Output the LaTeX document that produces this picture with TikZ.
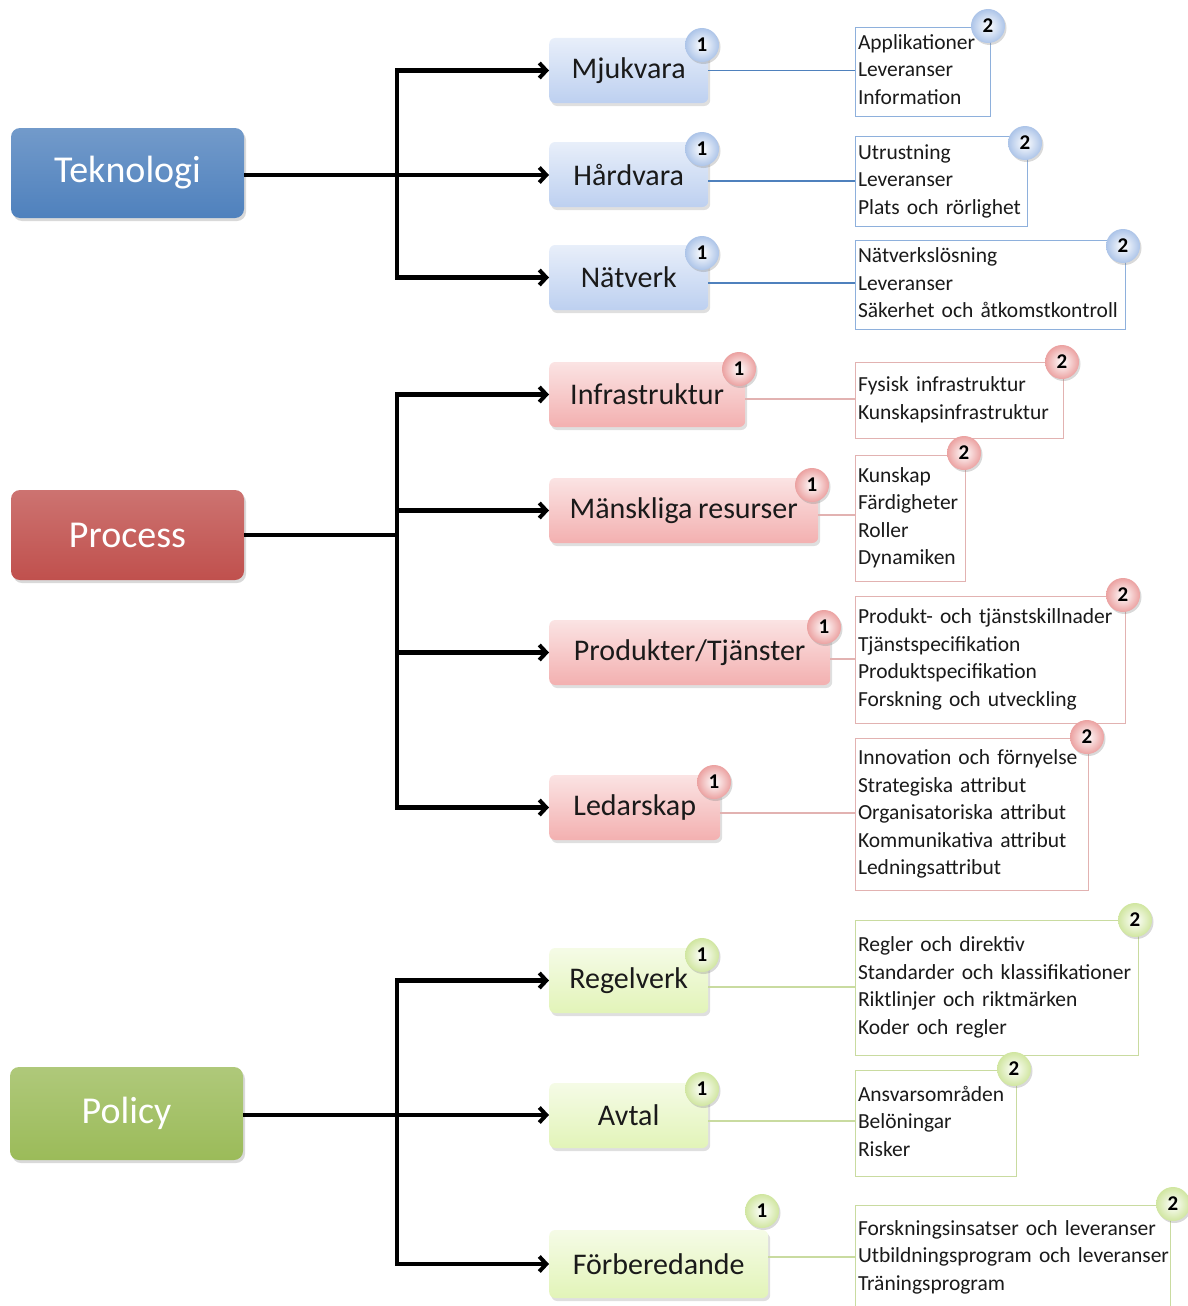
\documentclass[tikz,border=0pt]{standalone}
\usepackage{fontspec}
\setmainfont{Carlito}[WordSpace=0.85]
\usetikzlibrary{shadows,arrows.meta}
\definecolor{tekc}{HTML}{4F81BD}
\definecolor{proc}{HTML}{C0504D}
\definecolor{polc}{HTML}{9BBB59}
\definecolor{tekl}{HTML}{BDD0F0}
\definecolor{procl}{HTML}{F3B0B0}
\definecolor{poll}{HTML}{E2F4B8}
\definecolor{tekb}{HTML}{8EB0DC}
\definecolor{prob}{HTML}{E2B2B1}
\definecolor{polb}{HTML}{C9DBA0}
\definecolor{txt}{HTML}{1A1A1A}
\newcommand{\itemlines}[1]{\begin{tabular}{@{}l@{}}#1\end{tabular}}
\tikzset{
  mainbox/.style={rounded corners=9pt, minimum width=233pt, minimum height=90pt, inner sep=0pt,
    text=white, font=\fontsize{38}{44}\selectfont,
    drop shadow={opacity=0.3, shadow xshift=2pt, shadow yshift=-3pt}},
  subbox/.style={rounded corners=6pt, minimum height=65pt, inner sep=0pt, anchor=west,
    text=txt, font=\fontsize{30}{34}\selectfont,
    drop shadow={opacity=0.25, shadow xshift=2pt, shadow yshift=-3pt}},
  listbox/.style={draw, fill=white, line width=0.8pt, inner xsep=3pt, inner ysep=0pt, align=left,
    text=txt, font=\fontsize{21.5}{27.5}\selectfont},
  badge/.style={circle, minimum size=34pt, inner sep=0pt, font=\bfseries\fontsize{21}{24}\selectfont,
    text=black, shading=radial, inner color=white,
    drop shadow={opacity=0.3, shadow xshift=1.5pt, shadow yshift=-2pt}},
  flow/.style={line width=4.5pt, black, -{Straight Barb[length=7pt,width=15pt,line width=4pt]}},
  flowline/.style={line width=4.5pt, black},
  thin/.style={line width=1.2pt}
}
\begin{document}
\begin{tikzpicture}[x=1pt,y=-1pt]
\useasboundingbox (0,0) rectangle (1187,1306);

% ---------- main boxes
\node[mainbox, top color=tekc!80!white, bottom color=tekc] (tek) at (127.5,173) {Teknologi};
\node[mainbox, top color=proc!80!white, bottom color=proc] (pro) at (127.5,535) {Process};
\node[mainbox, minimum height=93pt, top color=polc!80!white, bottom color=polc] (pol) at (126.5,1113.5) {Policy};

% ---------- level 2
\tikzset{tsub/.style={subbox, top color=tekl!35!white, bottom color=tekl},
         psub/.style={subbox, top color=procl!35!white, bottom color=procl},
         gsub/.style={subbox, top color=poll!35!white, bottom color=poll}}
\node[tsub, minimum width=159pt] (mju) at (549,70.5) {Mjukvara};
\node[tsub, minimum width=159pt] (har) at (549,174.5) {Hårdvara};
\node[tsub, minimum width=159pt] (nat) at (549,277.5) {Nätverk};
\node[psub, minimum width=196pt] (inf) at (549,394.5) {Infrastruktur};
\node[psub, minimum width=269pt] (man) at (549,510.5) {Mänskliga resurser};
\node[psub, minimum width=281pt] (prt) at (549,652.5) {Produkter/Tjänster};
\node[psub, minimum width=171pt] (led) at (549,807.5) {Ledarskap};
\node[gsub, minimum width=159pt] (reg) at (549,980.5) {Regelverk};
\node[gsub, minimum width=159pt] (avt) at (549,1115.5) {Avtal};
\node[gsub, minimum width=219pt, minimum height=68pt] (for) at (549,1264) {Förberedande};

% ---------- main connectors
\coordinate (tj) at (397,175);
\coordinate (pj) at (397,535);
\coordinate (gj) at (397,1115);
\draw[flowline] (tek.east |- tj) -- (tj);
\draw[flow] (tj) |- (mju.west);
\draw[flow] (tj) -- (har.west |- tj);
\draw[flow] (tj) |- (nat.west);

\draw[flowline] (pro.east |- pj) -- (pj);
\draw[flow] (pj) |- (inf.west);
\draw[flow] (pj |- man.west) -- (man.west);
\draw[flow] (pj |- prt.west) -- (prt.west);
\draw[flow] (pj) |- (led.west);

\draw[flowline] (pol.east |- gj) -- (gj);
\draw[flow] (gj) |- (reg.west);
\draw[flow] (gj) -- (avt.west |- gj);
\draw[flow] (gj) |- (for.west);

% ---------- level 3 boxes
\node[listbox, draw=tekb, text width=129pt, minimum width=135pt, minimum height=89pt] (l1) at (922.5,71.5)
  {\itemlines{Applikationer\\Leveranser\\Information}};
\node[listbox, draw=tekb, text width=166pt, minimum width=172pt, minimum height=90pt] (l2) at (941,181)
  {\itemlines{Utrustning\\Leveranser\\Plats och rörlighet}};
\node[listbox, draw=tekb, text width=264pt, minimum width=270pt, minimum height=89pt] (l3) at (990,284.5)
  {\itemlines{Nätverkslösning\\Leveranser\\Säkerhet och åtkomstkontroll}};
\node[listbox, draw=prob, text width=202pt, minimum width=208pt, minimum height=76pt] (l4) at (959,400)
  {\itemlines{Fysisk infrastruktur\\Kunskapsinfrastruktur}};
\node[listbox, draw=prob, text width=104pt, minimum width=110pt, minimum height=126pt] (l5) at (910,518)
  {\itemlines{Kunskap\\Färdigheter\\Roller\\Dynamiken}};
\node[listbox, draw=prob, text width=264pt, minimum width=270pt, minimum height=127pt] (l6) at (990,659.5)
  {\itemlines{Produkt- och tjänstskillnader\\Tjänstspecifikation\\Produktspecifikation\\Forskning och utveckling}};
\node[listbox, draw=prob, text width=227pt, minimum width=233pt, minimum height=152pt] (l7) at (971.5,814)
  {\itemlines{Innovation och förnyelse\\Strategiska attribut\\Organisatoriska attribut\\Kommunikativa attribut\\Ledningsattribut}};
\node[listbox, draw=polb, text width=277pt, minimum width=283pt, minimum height=135pt] (l8) at (996.5,987.5)
  {\itemlines{Regler och direktiv\\Standarder och klassifikationer\\Riktlinjer och riktmärken\\Koder och regler}};
\node[listbox, draw=polb, text width=155pt, minimum width=161pt, minimum height=106pt] (l9) at (935.5,1123)
  {\itemlines{Ansvarsområden\\Belöningar\\Risker}};
\node[listbox, draw=polb, text width=309pt, minimum width=315pt, minimum height=104pt] (l10) at (1012.5,1257)
  {\itemlines{Forskningsinsatser och leveranser\\Utbildningsprogram och leveranser\\Träningsprogram}};

% ---------- thin connectors
\draw[thin, tekc] (mju.east) -- (mju.east -| l1.west);
\draw[thin, tekc] (har.east |- 0,181) -- (l2.west |- 0,181);
\draw[thin, tekc] (nat.east |- 0,283) -- (l3.west |- 0,283);
\draw[thin, prob] (inf.east |- 0,399) -- (l4.west |- 0,399);
\draw[thin, prob] (man.east |- 0,515) -- (l5.west |- 0,515);
\draw[thin, prob] (prt.east |- 0,659) -- (l6.west |- 0,659);
\draw[thin, prob] (led.east |- 0,813) -- (l7.west |- 0,813);
\draw[thin, polb] (reg.east |- 0,987) -- (l8.west |- 0,987);
\draw[thin, polb] (avt.east |- 0,1121) -- (l9.west |- 0,1121);
\draw[thin, polb] (for.east |- 0,1257) -- (l10.west |- 0,1257);

% ---------- badges
\tikzset{tb/.style={badge, outer color=tekl!85!tekc}, pb/.style={badge, outer color=procl!85!proc}, gb/.style={badge, outer color=poll!75!polc}}
\node[tb] (b1) at (702,45) {1};
\node[tb] (b2) at (702,149) {1};
\node[tb] (b3) at (702,253) {1};
\node[pb] (b4) at (739,369) {1};
\node[pb] (b5) at (812,485) {1};
\node[pb] (b6) at (824,627) {1};
\node[pb] (b7) at (714,782) {1};
\node[gb] (b8) at (702,955) {1};
\node[gb] (b9) at (702,1089) {1};
\node[gb] (b10) at (762,1211) {1};

\node[tb] (c1) at (988,26) {2};
\node[tb] (c2) at (1025,143) {2};
\node[tb] (c3) at (1123,246) {2};
\node[pb] (c4) at (1062,362) {2};
\node[pb] (c5) at (964,453) {2};
\node[pb] (c6) at (1123,595) {2};
\node[pb] (c7) at (1087,737) {2};
\node[gb] (c8) at (1135,920) {2};
\node[gb] (c9) at (1014,1069) {2};
\node[gb] (c10) at (1173,1204) {2};
\end{tikzpicture}
\end{document}
